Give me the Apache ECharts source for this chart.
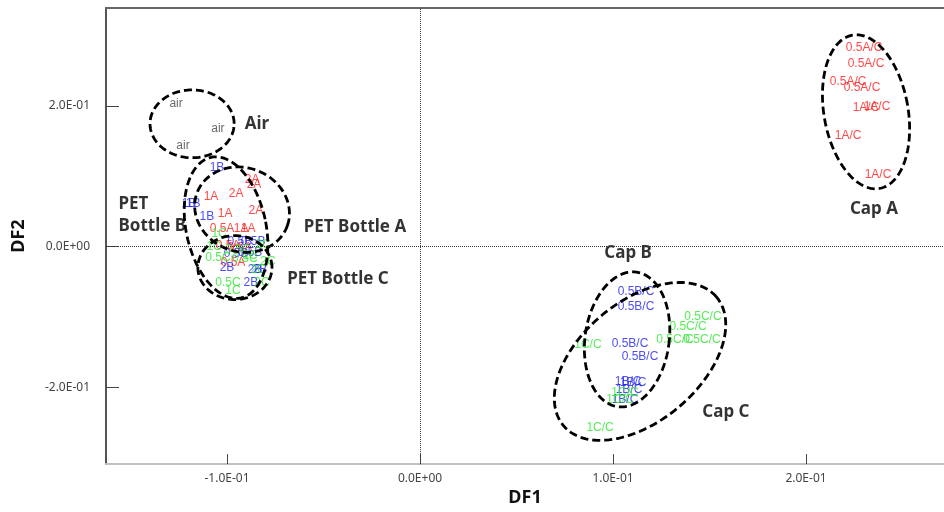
<!DOCTYPE html>
<html lang="en">
<head>
    <meta charset="UTF-8">
    <script src="https://cdn.jsdelivr.net/npm/echarts@6/dist/echarts.min.js"></script>
    <title>DF1 / DF2</title>
    <style>html,body{margin:0;padding:0;background:#fff;}</style>
</head>
<body>
<div id="main" style="width: 944px;height:512px;"></div>

<script type="text/javascript">
    // points: [DF1, DF2, label]
    var airPts = [[-0.1264, 0.2028, 'air'], [-0.1047, 0.1674, 'air'], [-0.1228, 0.1433, 'air']];
    var petA = [
        [-0.0870, 0.0950, '2A'], [-0.0860, 0.0879, '2A'], [-0.1083, 0.0709, '1A'], [-0.0953, 0.0752, '2A'],
        [-0.1010, 0.0468, '1A'], [-0.0850, 0.0511, '2A'], [-0.1026, 0.0255, '0.5A'], [-0.0927, 0.0255, '1A'],
        [-0.0891, 0.0255, '1A'], [-0.0995, 0.0014, '0.5A'], [-0.0933, -0.0014, '0.5A'], [-0.0969, -0.0227, '0.5A']
    ];
    var petB = [
        [-0.1052, 0.1121, '1B'], [-0.1197, 0.0610, '1B'], [-0.1176, 0.0610, '1B'], [-0.1104, 0.0426, '1B'],
        [-0.0933, 0.0071, '0.5B'], [-0.0865, 0.0071, '0.5B'], [-0.0953, -0.0099, '0.5B'], [-0.0881, -0.0085, '0.5B'],
        [-0.1000, -0.0298, '2B'], [-0.0855, -0.0326, '2B'], [-0.0829, -0.0326, '2B'], [-0.0876, -0.0511, '2B']
    ];
    var petC = [
        [-0.1047, -0.0156, '0.5C'], [-0.0995, -0.0511, '0.5C'], [-0.0907, -0.0170, '0.5C'], [-0.0943, -0.0043, '0.5C'],
        [-0.1041, 0.0184, '1C'], [-0.1067, 0.0000, '1C'], [-0.0969, -0.0624, '1C'], [-0.0881, -0.0128, '1C'],
        [-0.0813, 0.0028, '2C'], [-0.0788, -0.0213, '2C'], [-0.0819, -0.0511, '2C'], [-0.0839, -0.0326, '2C']
    ];
    var capA = [
        [0.2301, 0.2823, '0.5A/C'], [0.2311, 0.2596, '0.5A/C'], [0.2218, 0.2340, '0.5A/C'], [0.2290, 0.2255, '0.5A/C'],
        [0.2311, 0.1972, '1A/C'], [0.2368, 0.1986, '1A/C'], [0.2218, 0.1574, '1A/C'], [0.2373, 0.1021, '1A/C']
    ];
    var capB = [
        [0.1119, -0.0638, '0.5B/C'], [0.1119, -0.0851, '0.5B/C'], [0.1088, -0.1376, '0.5B/C'], [0.1140, -0.1560, '0.5B/C'],
        [0.1078, -0.1915, '1B/C'], [0.1104, -0.1929, '1B/C'], [0.1083, -0.2028, '1B/C'], [0.1062, -0.2170, '1B/C']
    ];
    var capC = [
        [0.1466, -0.0993, '0.5C/C'], [0.1389, -0.1135, '0.5C/C'], [0.1321, -0.1319, '0.5C/C'], [0.1461, -0.1319, '0.5C/C'],
        [0.0870, -0.1390, '1C/C'], [0.0933, -0.2567, '1C/C'], [0.1036, -0.2170, '1C/C'], [0.1062, -0.2071, '1C/C']
    ];

    // group ellipses: [centre DF1, centre DF2, radius DF1, radius DF2, rotation deg]
    var ellipses = [
        [-0.1181, 0.1745, 0.0218, 0.0482, 0],
        [-0.0922, 0.0525, 0.0249, 0.0596, -20],
        [-0.1005, 0.0270, 0.0207, 0.1021, 12],
        [-0.0959, -0.0298, 0.0192, 0.0454, 0],
        [0.2311, 0.1915, 0.0218, 0.1106, 10],
        [0.1073, -0.1319, 0.0218, 0.0965, -8],
        [0.1140, -0.1631, 0.0518, 0.0851, 40]
    ];
    var groupNames = ['Air', 'PET\nBottle B', 'PET Bottle A', 'PET Bottle C', 'Cap B', 'Cap A', 'Cap C'];
    var groupPos = [[-0.0845, 0.1745], [-0.1565, 0.044], [-0.0337, 0.027], [-0.0425, -0.0468],
        [0.1078, -0.0099], [0.2352, 0.0525], [0.1585, -0.2355]];

    var xTicks = [-0.1, 0, 0.1, 0.2];
    var yTicks = [-0.2, 0, 0.2];

    function sci(v) {
        if (Math.abs(v) < 1e-12) return '0.0E+00';
        var e = Math.floor(Math.log10(Math.abs(v)) + 1e-9);
        var m = v / Math.pow(10, e);
        var ae = Math.abs(e);
        return m.toFixed(1) + 'E' + (e < 0 ? '-' : '+') + (ae < 10 ? '0' : '') + ae;
    }

    function pointSeries(name, pts, color) {
        return {
            name: name,
            type: 'scatter',
            symbolSize: 1,
            itemStyle: {color: 'rgba(0,0,0,0)'},
            data: pts,
            z: 2,
            label: {
                show: true,
                position: 'inside',
                formatter: function (p) { return p.data[2]; },
                color: color,
                fontSize: 12,
                fontFamily: '"Liberation Sans Narrow", "Liberation Sans", sans-serif'
            }
        };
    }

    var myChart = echarts.init(document.getElementById('main'));

    var option = {
        animation: false,
        grid: {left: 106, right: 0, top: 8, bottom: 47},
        xAxis: [{
            type: 'value',
            min: -0.1627,
            max: 0.2715,
            name: 'DF1',
            nameLocation: 'middle',
            nameGap: 22,
            nameTextStyle: {fontSize: 18, fontWeight: 'bold', color: '#111', fontFamily: 'Noto Sans'},
            splitLine: {show: false},
            axisLine: {show: true, onZero: false, lineStyle: {color: '#c0c0c0', width: 2}},
            axisTick: {show: true, inside: true, length: 10, customValues: xTicks, lineStyle: {color: '#444'}},
            axisLabel: {customValues: xTicks, formatter: sci, margin: 8, fontSize: 12, color: '#444', fontFamily: 'Noto Sans'}
        }, {
            type: 'value',
            position: 'top',
            min: -0.1627,
            max: 0.2715,
            splitLine: {show: false},
            axisLine: {show: true, onZero: false, lineStyle: {color: '#666', width: 2}},
            axisTick: {show: false},
            axisLabel: {show: false}
        }],
        yAxis: {
            type: 'value',
            min: -0.309,
            max: 0.339,
            name: 'DF2',
            nameLocation: 'middle',
            nameGap: 78,
            nameRotate: 90,
            nameTextStyle: {fontSize: 18, fontWeight: 'bold', color: '#111', fontFamily: 'Noto Sans'},
            splitLine: {show: false},
            axisLine: {show: true, onZero: false, lineStyle: {color: '#555', width: 2}},
            axisTick: {show: true, inside: true, length: 13, customValues: yTicks, lineStyle: {color: '#444'}},
            axisLabel: {customValues: yTicks, formatter: sci, margin: 16, fontSize: 12, color: '#444', fontFamily: 'Noto Sans'}
        },
        series: [
            {
                type: 'custom',
                data: ellipses,
                z: 3,
                silent: true,
                renderItem: function (params, api) {
                    var c = api.coord([api.value(0), api.value(1)]);
                    var s = api.size([api.value(2), api.value(3)]);
                    var phi = api.value(4) * Math.PI / 180;
                    var pts = [];
                    for (var i = 0; i < 120; i++) {
                        var t = i / 120 * Math.PI * 2;
                        var x = s[0] * Math.cos(t), y = -s[1] * Math.sin(t);
                        pts.push([c[0] + x * Math.cos(phi) + y * Math.sin(phi),
                                  c[1] - x * Math.sin(phi) + y * Math.cos(phi)]);
                    }
                    return {
                        type: 'polygon',
                        shape: {points: pts},
                        style: {fill: null, stroke: '#000', lineWidth: 2.8, lineDash: [8, 4]}
                    };
                },
                markLine: {
                    silent: true,
                    symbol: ['none', 'none'],
                    label: {show: false},
                    lineStyle: {type: 'dotted', color: '#333', width: 1},
                    data: [{xAxis: 0}, {yAxis: 0}]
                }
            },
            pointSeries('air', airPts, '#444'),
            pointSeries('PET Bottle A', petA, '#ff1a1a'),
            pointSeries('PET Bottle B', petB, '#2020f0'),
            pointSeries('PET Bottle C', petC, '#2ee62e'),
            pointSeries('Cap A', capA, '#ff1a1a'),
            pointSeries('Cap B', capB, '#2020f0'),
            pointSeries('Cap C', capC, '#2ee62e'),
            {
                type: 'scatter',
                symbolSize: 1,
                itemStyle: {color: 'rgba(0,0,0,0)'},
                z: 4,
                data: groupPos.map(function (p, i) { return {value: p, name: groupNames[i]}; }),
                label: {
                    show: true,
                    position: 'inside',
                    formatter: function (p) { return p.name; },
                    color: '#000',
                    fontSize: 17,
                    fontWeight: 'bold',
                    lineHeight: 22,
                    fontFamily: 'Noto Sans'
                }
            }
        ]
    };
    // PET Bottle B label is left aligned
    option.series[option.series.length - 1].data[1].label = {position: 'right', distance: 0, align: 'left'};

    myChart.setOption(option);
</script>
</body>
</html>
